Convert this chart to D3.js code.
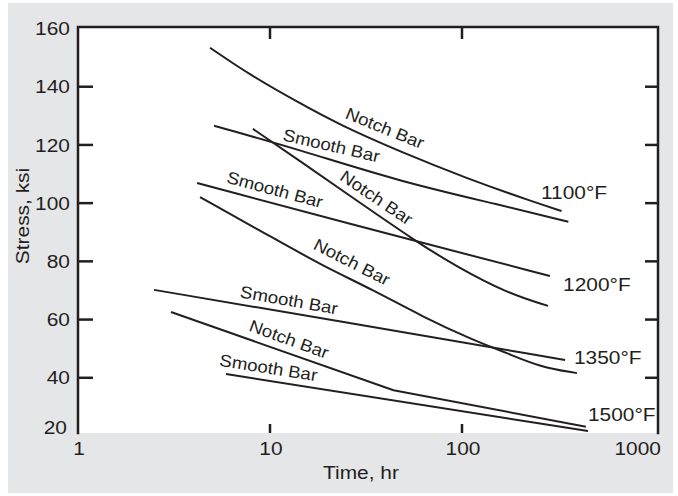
<!DOCTYPE html>
<html>
<head>
<meta charset="utf-8">
<script src="https://cdn.jsdelivr.net/npm/d3@7/dist/d3.min.js"></script>
<style>
  html, body { margin: 0; padding: 0; background: #ffffff; }
  svg { display: block; }
  text { font-family: "Liberation Sans", Arial, Helvetica, sans-serif; fill: #231f20; }
</style>
</head>
<body>
<svg id="chart" width="678" height="496"></svg>
<script>
// ---------- data ----------
const xTicks = [1, 10, 100, 1000];
const xTickLabels = ["1", "10", "100", "1000"];
const yTicks = [20, 40, 60, 80, 100, 120, 140, 160];
const yTickLabels = ["20", "40", "60", "80", "100", "120", "140", "160"];
const xTitle = "Time, hr";
const yTitle = "Stress, ksi";

// curves: time (hr) and stress (ksi)
const notch1100Time   = [4.87, 7.87, 14.3, 23.2, 47.5, 105.8, 234, 330];
const notch1100Stress = [153.4, 144.0, 134.3, 126.8, 117.7, 108.5, 100.5, 97.3];
const smooth1100Time   = [5.11, 14.3, 47.5, 157.8, 358];
const smooth1100Stress = [126.6, 118.3, 107.4, 99.4, 93.6];

const notch1200Time   = [8.15, 14.3, 26.1, 58.3, 94.2, 171.6, 280.5];
const notch1200Stress = [125.5, 114.5, 102.5, 86.6, 78.1, 69.1, 64.7];
const smooth1200Time   = [4.17, 58.3, 287];
const smooth1200Stress = [106.9, 86.8, 75.0];

const notch1350Time   = [4.32, 10.4, 18.9, 34.4, 62.6, 114.1, 171.6, 254.8, 397];
const notch1350Stress = [102.1, 88.0, 78.4, 70.2, 60.9, 53.0, 48.5, 43.7, 41.6];
const smooth1350Time   = [2.49, 23.2, 344];
const smooth1350Stress = [70.2, 59.4, 46.1];

const notch1500Time   = [3.05, 44, 442];
const notch1500Stress = [62.6, 35.7, 23.2];
const smooth1500Time   = [5.9, 453];
const smooth1500Stress = [41.3, 21.7];

// curve labels (text, anchor time, anchor stress, angle)
const curveLabelText   = ["Notch Bar", "Smooth Bar", "Notch Bar", "Smooth Bar", "Notch Bar", "Smooth Bar", "Notch Bar", "Smooth Bar"];
const curveLabelTime   = [39.7, 20.9, 35.9, 10.6, 26.7, 12.56, 12.56, 9.82];
const curveLabelStress = [125.8, 119.8, 101.9, 104.7, 79.8, 66.7, 53.3, 43.5];
const curveLabelAngle  = [22, 13, 34, 15, 27, 10, 20, 9];

// temperature labels
const tempLabels = ["1100°F", "1200°F", "1350°F", "1500°F"];
const tempTime   = [258, 336, 383, 453];
const tempStress = [103.8, 72.2, 47.1, 27.6];

// ---------- layout ----------
const panel = { x: 8, y: 3, w: 665, h: 490 };
const plot = { left: 78, top: 27, right: 658, bottom: 433 };
const ink = "#231f20";
const sx = 1.1; // horizontal text stretch

const svg = d3.select("#chart");

const x = d3.scaleLog().domain([1, 1000]).range([78, 654]);
const y = d3.scaleLinear().domain([20, 160]).range([436, 28.5]);

svg.append("rect").attr("x", panel.x).attr("y", panel.y).attr("width", panel.w).attr("height", panel.h)
  .attr("fill", "#e5e6e7");
svg.append("rect").attr("x", plot.left).attr("y", plot.top)
  .attr("width", plot.right - plot.left).attr("height", plot.bottom - plot.top)
  .attr("fill", "#ffffff");

// curves
const line = d3.line().x(d => x(d[0])).y(d => y(d[1])).curve(d3.curveBasis);
const lineLin = d3.line().x(d => x(d[0])).y(d => y(d[1]));
const series = [
  [notch1100Time, notch1100Stress, line],
  [smooth1100Time, smooth1100Stress, line],
  [notch1200Time, notch1200Stress, line],
  [smooth1200Time, smooth1200Stress, line],
  [notch1350Time, notch1350Stress, line],
  [smooth1350Time, smooth1350Stress, line],
  [notch1500Time, notch1500Stress, lineLin],
  [smooth1500Time, smooth1500Stress, lineLin]
];
series.forEach(([t, s, gen]) => {
  svg.append("path")
    .datum(t.map((v, i) => [v, s[i]]))
    .attr("d", gen)
    .attr("fill", "none")
    .attr("stroke", ink)
    .attr("stroke-width", 2)
    .attr("stroke-linejoin", "round")
    .attr("stroke-linecap", "butt");
});

// frame (left, top, right)
const frame = svg.append("g").attr("stroke", ink).attr("stroke-width", 2.5).attr("fill", "none");
frame.append("path").attr("d", `M${plot.left},${plot.bottom}V${plot.top}H${plot.right}V${plot.bottom}`)
  .attr("stroke-linecap", "square");

// y ticks left and right
yTicks.forEach(v => {
  if (v === 20 || v === 160) return;
  frame.append("line").attr("x1", plot.left).attr("x2", plot.left + 15).attr("y1", y(v)).attr("y2", y(v));
  frame.append("line").attr("x1", plot.right).attr("x2", plot.right - 13).attr("y1", y(v)).attr("y2", y(v));
});
// x ticks top and bottom
xTicks.forEach(v => {
  if (v === 1 || v === 1000) return;
  frame.append("line").attr("x1", x(v)).attr("x2", x(v)).attr("y1", plot.top).attr("y2", plot.top + 12);
  frame.append("line").attr("x1", x(v)).attr("x2", x(v)).attr("y1", plot.bottom).attr("y2", plot.bottom - 9);
});

function stretchedText(px, py, str, anchor, size, extra) {
  return svg.append("text")
    .attr("transform", `translate(${px},${py})${extra || ""} scale(${sx},1)`)
    .attr("text-anchor", anchor)
    .attr("dy", "0.35em")
    .style("font-size", size + "px")
    .text(str);
}

// y tick labels
yTicks.forEach((v, i) => {
  const py = Math.min(y(v), plot.bottom - 6);
  const px = v === 20 ? 67 : 70;
  stretchedText(px, py, yTickLabels[i], "end", 19);
});
// x tick labels
xTicks.forEach((v, i) => {
  const anchor = v === 1000 ? "end" : "middle";
  const px = v === 1000 ? 661 : x(v) + 1;
  stretchedText(px, 448, xTickLabels[i], anchor, 19);
});

// axis titles
stretchedText(361, 472, xTitle, "middle", 19);
svg.append("text")
  .attr("transform", `translate(22,216) rotate(-90) scale(${sx},1)`)
  .attr("text-anchor", "middle")
  .attr("dy", "0.35em")
  .style("font-size", "19px")
  .text(yTitle);

// curve labels
curveLabelText.forEach((t, i) => {
  stretchedText(x(curveLabelTime[i]), y(curveLabelStress[i]), t, "middle", 17, ` rotate(${curveLabelAngle[i]})`);
});

// temperature labels
tempLabels.forEach((t, i) => {
  stretchedText(x(tempTime[i]), y(tempStress[i]), t, "start", 19);
});
</script>
</body>
</html>
